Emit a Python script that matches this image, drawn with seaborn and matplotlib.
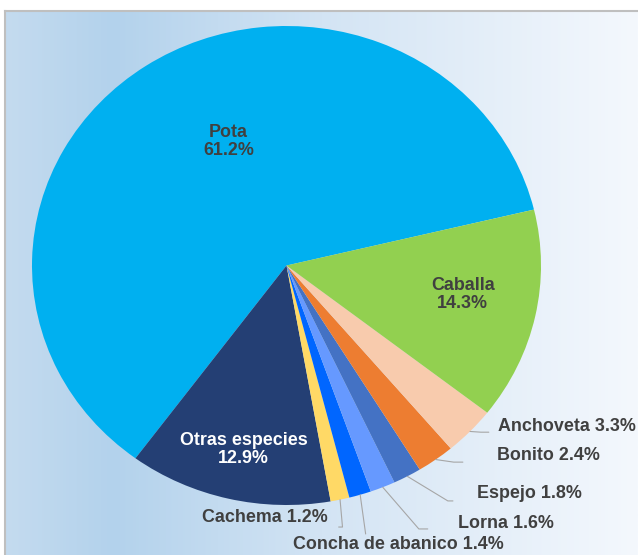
import numpy as np
import matplotlib
matplotlib.use("Agg")
import matplotlib.pyplot as plt
import seaborn as sns
from matplotlib.colors import LinearSegmentedColormap

# data (counter-clockwise from the Pota/Caballa boundary)
species = ["Pota", "Otras especies", "Cachema", "Concha de abanico", "Lorna",
           "Espejo", "Bonito", "Anchoveta", "Caballa"]
shares = [61.2, 12.9, 1.2, 1.4, 1.6, 1.8, 2.4, 3.3, 14.3]
colors = ["#00B0F0", "#243F74", "#FFD966", "#0066FF", "#6699FF",
          "#4472C4", "#ED7D31", "#F8CBAD", "#92D050"]

# layout for labels: (x, y, color) in pie data units
inner = {
    "Pota": (-0.228, 0.517, "#404040"),
    "Caballa": (0.693, -0.121, "#404040"),
    "Otras especies": (-0.169, -0.767, "white"),
}
# text x, text y, ha, elbow x, elbow y, end x
outer = {
    "Anchoveta": (0.832, -0.671, "left", 0.764, -0.696, 0.795),
    "Bonito": (0.827, -0.792, "left", 0.657, -0.821, 0.693),
    "Espejo": (0.748, -0.954, "left", 0.634, -0.983, 0.654),
    "Lorna": (0.673, -1.079, "left", 0.520, -1.100, 0.555),
    "Concha de abanico": (0.441, -1.167, "center", 0.311, -1.121, 0.311),
    "Cachema": (0.161, -1.054, "right", 0.220, -1.092, 0.205),
}

sns.set_theme(style="white")
plt.rcParams["font.family"] = ["Liberation Sans", "DejaVu Sans"]

fig = plt.figure(figsize=(6.38, 5.55), dpi=100)
fig.patch.set_facecolor("white")

# gradient background panel
bg = fig.add_axes([5 / 638, 0, 633 / 638, 544 / 555])
cmap = LinearSegmentedColormap.from_list(
    "bg", [(0, "#C4DBEF"), (0.17, "#B3D2EC"), (0.5, "#D3E4F4"), (1, "#F4F8FD")])
grad = np.linspace(0, 1, 256).reshape(1, -1)
bg.imshow(grad, aspect="auto", cmap=cmap, extent=[0, 1, 0, 1])
bg.set_xticks([])
bg.set_yticks([])
for side in ["right", "bottom"]:
    bg.spines[side].set_visible(False)
for side in ["top", "left"]:
    bg.spines[side].set_color("#BFBFBF")
    bg.spines[side].set_linewidth(1.5)

ax = fig.add_axes([32 / 638, 50 / 555, 509 / 638, 479 / 555])
wedges, _ = ax.pie(shares, colors=colors, startangle=13.5, counterclock=True,
                   radius=1, wedgeprops=dict(linewidth=0))
ax.set_aspect("auto")
ax.set_xlim(-1, 1)
ax.set_ylim(-1, 1)
ax.axis("off")

font = dict(fontsize=12.9, fontweight="bold")
for name, share, w in zip(species, shares, wedges):
    if name in inner:
        x, y, c = inner[name]
        ax.text(x, y, f"{name}\n{share}%", ha="center", va="center",
                color=c, linespacing=1.1, **font)
    else:
        tx, ty, ha, ex, ey, endx = outer[name]
        mid = np.deg2rad((w.theta1 + w.theta2) / 2)
        px, py = np.cos(mid), np.sin(mid)
        ax.plot([px, ex, endx], [py, ey, ey], color="#A6A6A6", lw=0.8,
                clip_on=False)
        ax.text(tx, ty, f"{name} {share}%", ha=ha, va="center",
                color="#404040", **font)

fig.savefig("out.png", dpi=100)
